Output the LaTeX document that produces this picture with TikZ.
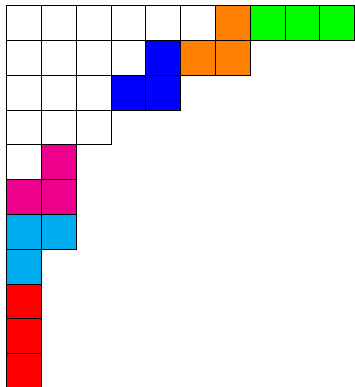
\documentclass[tikz,border=0pt]{standalone}
\definecolor{cOrange}{RGB}{255,128,0}
\definecolor{cGreen}{RGB}{0,255,0}
\definecolor{cBlue}{RGB}{0,0,255}
\definecolor{cMag}{RGB}{236,0,140}
\definecolor{cCyan}{RGB}{0,174,239}
\definecolor{cRed}{RGB}{255,0,0}
\tikzset{cell/.style={draw=black,line width=0.7pt}}
\begin{document}
\begin{tikzpicture}[x=1cm,y=1cm]
\useasboundingbox (-0.187,-10.96) rectangle (9.985,0.158);
% rows: list of (row, column, colour)
\foreach \r/\c/\col in {
 1/1/white,1/2/white,1/3/white,1/4/white,1/5/white,1/6/white,1/7/cOrange,1/8/cGreen,1/9/cGreen,1/10/cGreen,
 2/1/white,2/2/white,2/3/white,2/4/white,2/5/cBlue,2/6/cOrange,2/7/cOrange,
 3/1/white,3/2/white,3/3/white,3/4/cBlue,3/5/cBlue,
 4/1/white,4/2/white,4/3/white,
 5/1/white,5/2/cMag,
 6/1/cMag,6/2/cMag,
 7/1/cCyan,7/2/cCyan,
 8/1/cCyan,
 9/1/cRed,10/1/cRed,11/1/cRed}
 \path[cell,fill=\col] (\c-1,-\r+1) rectangle (\c,-\r);
\end{tikzpicture}
\end{document}
